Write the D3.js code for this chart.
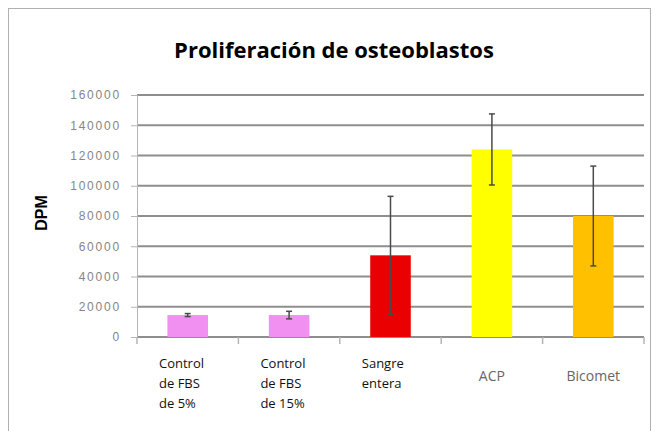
<!DOCTYPE html>
<html>
<head>
<meta charset="utf-8">
<script src="https://cdn.jsdelivr.net/npm/d3@7"></script>
<style>
  body { margin: 0; background: #fff; }
  svg { display: block; }
</style>
</head>
<body>
<svg id="chart" width="657" height="431"></svg>
<script>
// data
var categories = ['Control de FBS de 5%', 'Control de FBS de 15%', 'Sangre entera', 'ACP', 'Bicomet'];
var labelLines = [['Control', 'de FBS', 'de 5%'], ['Control', 'de FBS', 'de 15%'], ['Sangre', 'entera'], ['ACP'], ['Bicomet']];
var values = [14500, 14500, 54000, 124000, 80000];
var errors = [1000, 2500, 39000, 23500, 33000];
var barColors = ['#f190f0', '#f190f0', '#ea0000', '#ffff00', '#ffc000'];
var yTicks = [0, 20000, 40000, 60000, 80000, 100000, 120000, 140000, 160000];

var svg = d3.select('#chart');
var plotLeft = 137, plotRight = 644, plotTop = 95, plotBottom = 337;

// outer frame
svg.append('rect')
  .attr('x', 8.5).attr('y', 8.5)
  .attr('width', 642).attr('height', 440)
  .attr('fill', 'none')
  .attr('stroke', '#b0b0b0');

var x = d3.scaleBand().domain(categories).range([plotLeft, plotRight]).paddingInner(0).paddingOuter(0);
var y = d3.scaleLinear().domain([0, 160000]).range([plotBottom, plotTop]);

// gridlines
svg.append('g').selectAll('line')
  .data(yTicks)
  .enter().append('line')
  .attr('x1', plotLeft).attr('x2', plotRight)
  .attr('y1', function(d) { return y(d); })
  .attr('y2', function(d) { return y(d); })
  .attr('stroke', '#8e8e8e')
  .attr('stroke-width', 2);

// y axis
var yAxis = d3.axisLeft(y).tickValues(yTicks).tickSize(6).tickFormat(d3.format('d'));
var gy = svg.append('g').attr('transform', 'translate(' + plotLeft + ',0)').call(yAxis);
gy.select('.domain').attr('stroke', '#b5b5b5');
gy.selectAll('.tick line').attr('stroke', '#b5b5b5');
gy.selectAll('.tick text')
  .attr('x', -16)
  .style('font-family', 'Liberation Sans, Arial, sans-serif')
  .style('font-size', '12px')
  .style('letter-spacing', '1.8px')
  .attr('fill', '#858585');

// x axis ticks between categories
var bounds = categories.map(function(c) { return x(c); }).concat([plotRight]);
svg.append('g').selectAll('line')
  .data(bounds)
  .enter().append('line')
  .attr('x1', function(d) { return d; }).attr('x2', function(d) { return d; })
  .attr('y1', plotBottom).attr('y2', plotBottom + 7)
  .attr('stroke', '#b5b5b5')
  .attr('stroke-width', 1.5);

// bars
var barW = x.bandwidth() * 0.4;
svg.append('g').selectAll('rect')
  .data(categories)
  .enter().append('rect')
  .attr('x', function(d) { return x(d) + (x.bandwidth() - barW) / 2; })
  .attr('y', function(d, i) { return y(values[i]); })
  .attr('width', barW)
  .attr('height', function(d, i) { return plotBottom - y(values[i]); })
  .attr('fill', function(d, i) { return barColors[i]; });

// error bars
var eb = svg.append('g').attr('stroke', '#4a4a4a').attr('stroke-width', 1.5);
categories.forEach(function(c, i) {
  var cx = x(c) + x.bandwidth() / 2;
  var hi = y(values[i] + errors[i]), lo = y(values[i] - errors[i]);
  eb.append('line').attr('x1', cx).attr('x2', cx).attr('y1', hi).attr('y2', lo);
  eb.append('line').attr('x1', cx - 3).attr('x2', cx + 3).attr('y1', hi).attr('y2', hi);
  eb.append('line').attr('x1', cx - 3).attr('x2', cx + 3).attr('y1', lo).attr('y2', lo);
});

// category labels
categories.forEach(function(c, i) {
  var lines = labelLines[i];
  var t = svg.append('text')
    .style('font-family', 'Open Sans, sans-serif')
    .style('font-size', '13px')
    .attr('fill', i < 3 ? '#111' : '#666');
  if (lines.length > 1) {
    t.attr('x', x(c) + 22);
    lines.forEach(function(s, k) {
      t.append('tspan').attr('x', x(c) + 22).attr('y', 368 + k * 20).text(s);
    });
  } else {
    t.attr('x', x(c) + x.bandwidth() / 2).attr('y', 381)
      .attr('text-anchor', 'middle')
      .style('font-size', '14px')
      .text(lines[0]);
  }
});

// axis title
svg.append('text')
  .attr('transform', 'translate(47,213) rotate(-90)')
  .attr('text-anchor', 'middle')
  .style('font-family', 'Liberation Sans, Arial, sans-serif')
  .style('font-size', '16px')
  .style('font-weight', 'bold')
  .text('DPM');

// title
svg.append('text')
  .attr('x', 334).attr('y', 58)
  .attr('text-anchor', 'middle')
  .style('font-family', 'Open Sans, sans-serif')
  .style('font-size', '22px')
  .style('font-weight', 'bold')
  .text('Proliferación de osteoblastos');
</script>
</body>
</html>
